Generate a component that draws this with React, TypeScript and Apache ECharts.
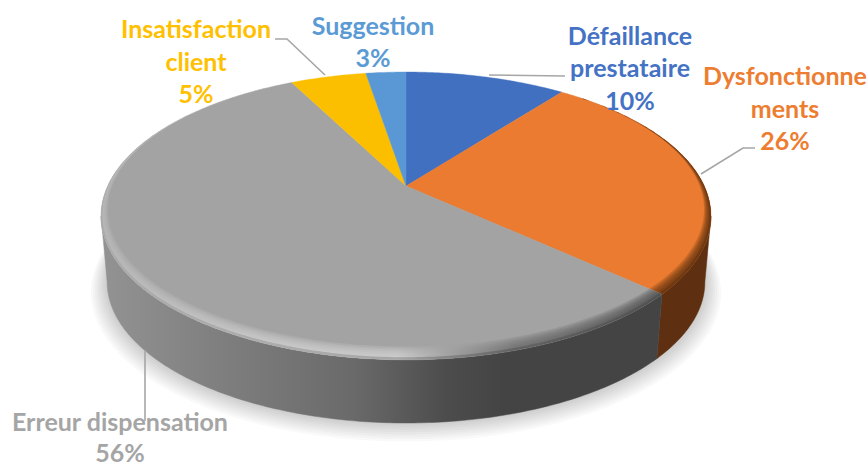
import React, { useEffect, useRef } from "react";
import * as echarts from "echarts";

const categories = ["Défaillance\nprestataire", "Dysfonctionne\nments", "Erreur dispensation", "Insatisfaction\nclient", "Suggestion"];
const shares = [10.4, 26.4, 55.7, 4.9, 2.6];
const faceColors = ["#4270c1", "#ea7b30", "#a3a3a3", "#fcbf00", "#5a98d5"];
const textColors = ["#4472c4", "#ed7d31", "#a5a5a5", "#ffc000", "#5b9bd5"];

// Layout of the tilted disc
const CX = 406, APEX_Y = 186, A = 298.3, B = 137.7, K = 0.208;
const BASE_SCALE = 0.98, BASE_APEX_Y = 252.6;
const RIM_DEPTH = 0.062, RIM_STEPS = 8;
const SHADOW_STEPS = 8;
const DEG = Math.PI / 180;
const labelLayout = [
  { x: 630, y: 67, lh: 32.5, line: [[489, 75], [565, 76]] },
  { x: 785, y: 107.5, lh: 32.5, line: [[701, 174], [743, 148], [755, 148]] },
  { x: 120, y: 436, lh: 31, line: [[145, 350], [145, 421]] },
  { x: 196, y: 60.5, lh: 32.5, line: [[275, 39], [287, 39], [325, 75]] },
  { x: 373, y: 41, lh: 32, line: null },
];

const total = shares.reduce((a, b) => a + b, 0);
const sliceAngles = (i: number) => {
  const before = shares.slice(0, i).reduce((a, b) => a + b, 0);
  return [(before / total) * 2 * Math.PI, ((before + shares[i]) / total) * 2 * Math.PI];
};
const project = (t: number, r = 1, base = false) => {
  const u = Math.sin(t) * r, v = Math.cos(t) * r;
  const w = 1 + K * v;
  const s = base ? BASE_SCALE : 1;
  return [CX + (A * s * u) / w, (base ? BASE_APEX_Y : APEX_Y) - (B * s * v) / w];
};
const arc = (a: number, b: number, f: (t: number) => number[]) => {
  const n = Math.max(2, Math.ceil(Math.abs(b - a) / (0.75 * DEG)));
  const pts: number[][] = [];
  for (let j = 0; j <= n; j++) pts.push(f(a + ((b - a) * j) / n));
  return pts;
};
const rimWeight = (t: number) => Math.pow((1 - Math.cos(t)) / 2, 2);
const hGrad = (x0: number, x1: number, stops: [number, string][]) =>
  new echarts.graphic.LinearGradient(x0, 0, x1, 0, stops.map(([offset, color]) => ({ offset, color })), true);

const wallFill = (i: number) =>
  i === 2
    ? hGrad(101, 660, [[0, "#939393"], [0.2, "#808080"], [0.45, "#6a6a6a"], [0.62, "#4c4c4c"], [0.72, "#444444"], [1, "#444444"]])
    : i === 1
    ? "#5e3011"
    : faceColors[i];

const rimFill = (i: number) =>
  i === 2
    ? hGrad(101, 660, [[0, "#bcbcbc"], [0.27, "#cfcfcf"], [0.53, "#d6d6d6"], [0.62, "#a3a3a3"], [0.74, "#6a6a6a"], [1, "#484848"]])
    : "#5e3011";

const App = () => {
  const ref = useRef<HTMLDivElement>(null);
  useEffect(() => {
    document.body.style.margin = "0";
    const chart = echarts.init(ref.current!, undefined, { renderer: "svg" });
    const data = shares.map((v, i) => [v, i]);
    chart.setOption({
      animation: false,
      backgroundColor: "#ffffff",
      series: [
        {
          type: "custom", coordinateSystem: "none", silent: true, z: 1,
          data: [[0]],
          renderItem: () => {
            const children: any[] = [];
            for (let b = SHADOW_STEPS; b >= 1; b--) {
              const pts = arc(0, 2 * Math.PI, (t) => {
                const p = project(t, 1 + b * 0.0065, true);
                return [p[0], p[1] + b * 0.9];
              });
              children.push({ type: "polygon", shape: { points: pts }, style: { fill: "#000000", opacity: 0.022 } });
            }
            return { type: "group", children };
          },
        },
        {
          type: "custom", coordinateSystem: "none", silent: true, z: 2,
          data,
          renderItem: (_p: any, api: any) => {
            const i = api.value(1);
            const [a0, a1] = sliceAngles(i);
            const s = Math.max(a0, 102 * DEG), e = Math.min(a1, 258 * DEG);
            if (e <= s) return { type: "group", children: [] };
            const top = arc(s, e, (t) => project(t));
            const bottom = arc(e, s, (t) => project(t, 1, true));
            return {
              type: "polygon",
              shape: { points: [...top, ...bottom] },
              style: { fill: wallFill(i), stroke: wallFill(i), lineWidth: 0.5 },
            };
          },
        },
        {
          type: "custom", coordinateSystem: "none", silent: true, z: 3,
          data,
          renderItem: (_p: any, api: any) => {
            const i = api.value(1);
            const [a0, a1] = sliceAngles(i);
            const children: any[] = [
              {
                type: "polygon",
                shape: { points: [[CX, APEX_Y], ...arc(a0, a1, (t) => project(t))] },
                style: { fill: faceColors[i], stroke: faceColors[i], lineWidth: 0.4 },
              },
            ];
            if (i === 1 || i === 2) {
              const outer = arc(a0, a1, (t) => project(t));
              for (let b = RIM_STEPS; b >= 1; b--) {
                const depth = (RIM_DEPTH * b) / RIM_STEPS;
                const inner = arc(a1, a0, (t) => project(t, 1 - depth * rimWeight(t)));
                children.push({
                  type: "polygon",
                  shape: { points: [...outer, ...inner] },
                  style: { fill: rimFill(i), opacity: 0.2 },
                });
              }
              // the rim rolls over into the wall colour at its very edge
              const edge = arc(a1, a0, (t) => project(t, 1 - 0.012 * rimWeight(t)));
              children.push({
                type: "polygon",
                shape: { points: [...outer, ...edge] },
                style: { fill: wallFill(i), opacity: 0.35 },
              });
            }
            return { type: "group", children };
          },
        },
        {
          type: "custom", coordinateSystem: "none", silent: true, z: 4,
          data,
          renderItem: (_p: any, api: any) => {
            const i = api.value(1);
            const layout = labelLayout[i];
            const children: any[] = [];
            if (layout.line) {
              children.push({
                type: "polyline",
                shape: { points: layout.line },
                style: { stroke: "#a6a6a6", lineWidth: 1.6, fill: null },
              });
            }
            children.push({
              type: "text",
              style: {
                text: `${categories[i]}\n${Math.round(api.value(0))}%`,
                x: layout.x, y: layout.y,
                align: "center", verticalAlign: "middle",
                fill: textColors[i],
                fontFamily: "Lato", fontWeight: "bold", fontSize: 25, lineHeight: layout.lh,
              },
            });
            return { type: "group", children };
          },
        },
      ],
    });
    return () => chart.dispose();
  }, []);
  return <div ref={ref} style={{ width: 868, height: 465 }} />;
};

export default App;
